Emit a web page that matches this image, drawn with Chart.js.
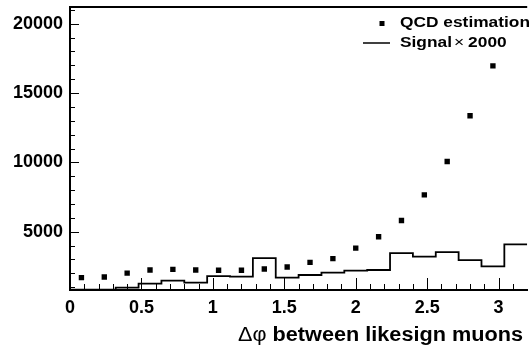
<!DOCTYPE html>
<html>
<head>
<meta charset="utf-8">
<script src="https://cdn.jsdelivr.net/npm/chart.js@4.4.1/dist/chart.umd.min.js"></script>
<style>
  html, body { margin: 0; padding: 0; background: #fff; }
  canvas { display: block; }
</style>
</head>
<body>
<canvas id="myChart" width="531" height="352"></canvas>
<script>
// data
const qcdX = [0.08, 0.24, 0.40, 0.56, 0.72, 0.88, 1.04, 1.20, 1.36, 1.52,
  1.68, 1.84, 2.00, 2.16, 2.32, 2.48, 2.64, 2.80, 2.96];
const qcdY = [1690, 1740, 2020, 2240, 2290, 2240, 2220, 2220, 2310, 2460,
  2790, 3060, 3820, 4640, 5810, 7660, 10060, 13360, 16960];

const signalEdges = [0, 0.16, 0.32, 0.48, 0.64, 0.80, 0.96, 1.12, 1.28, 1.44,
  1.60, 1.76, 1.92, 2.08, 2.24, 2.40, 2.56, 2.72, 2.88, 3.04, 3.20];
const signalY = [820, 820, 975, 1260, 1480, 1330, 1800, 1770, 3100, 1690,
  1880, 2050, 2200, 2240, 3460, 3200, 3530, 2960, 2500, 4090];

const xTicks = [0, 0.5, 1, 1.5, 2, 2.5, 3];
const yTicks = [5000, 10000, 15000, 20000];

const FONT = "'Liberation Sans', Arial, Helvetica, sans-serif";
const ctx = document.getElementById("myChart");

// histogram outline: one point per left edge, plus the closing right edge
const signalPts = signalEdges.map((x, i) => ({ x: x, y: signalY[Math.min(i, signalY.length - 1)] }));
const qcdPts = qcdX.map((x, i) => ({ x: x, y: qcdY[i] }));

// draw text squeezed/stretched to a given width
function fitText(c, str, x, y, width) {
  const w = c.measureText(str).width;
  c.save();
  c.translate(x, y);
  c.scale(width / w, 1);
  c.fillText(str, 0, 0);
  c.restore();
}

// inward ROOT-like ticks, frame top line, legend and axis title
const rootStyle = {
  id: "rootStyle",
  afterDraw(chart) {
    const c = chart.ctx;
    const area = chart.chartArea;
    const xs = chart.scales.x;
    const ys = chart.scales.y;
    c.save();
    c.strokeStyle = "#000";
    c.lineWidth = 1;

    // x ticks (minor every 0.1)
    for (let k = 0; k <= 32; k++) {
      const px = Math.round(xs.getPixelForValue(k / 10)) + 0.5;
      if (px > area.right) break;
      const len = k % 5 === 0 ? 12 : 6;
      c.beginPath();
      c.moveTo(px, area.bottom);
      c.lineTo(px, area.bottom - len);
      c.stroke();
    }
    // y ticks (minor every 1000)
    for (let v = 1000; v <= 21000; v += 1000) {
      const py = Math.round(ys.getPixelForValue(v)) + 0.5;
      const len = v % 5000 === 0 ? 9 : 5;
      c.beginPath();
      c.moveTo(area.left, py);
      c.lineTo(area.left + len, py);
      c.stroke();
    }

    // top frame line
    c.lineWidth = 2;
    c.beginPath();
    c.moveTo(area.left - 1, area.top);
    c.lineTo(area.right, area.top);
    c.stroke();

    // legend
    c.fillStyle = "#000";
    c.fillRect(379.5, 21, 5, 5);
    c.lineWidth = 1.5;
    c.beginPath();
    c.moveTo(363, 43);
    c.lineTo(390, 43);
    c.stroke();
    c.textBaseline = "middle";
    c.textAlign = "left";
    c.font = "bold 14.5px " + FONT;
    fitText(c, "QCD estimation", 400, 23, 130);
    const sx = 130 / c.measureText("QCD estimation").width;
    const ws = c.measureText("Signal").width * sx;
    fitText(c, "Signal", 400, 43, ws);
    c.font = "14.5px " + FONT;
    const wx = c.measureText("\u00d7").width * sx;
    fitText(c, "\u00d7", 400 + ws + 2, 43, wx);
    c.font = "bold 14.5px " + FONT;
    const wn = c.measureText("2000").width * sx;
    fitText(c, "2000", 400 + ws + 2 + wx + 4, 43, wn);

    // x axis title, right aligned, 238..523
    c.textBaseline = "alphabetic";
    const t1 = "\u0394\u03c6";
    const t2 = " between likesign muons";
    c.font = "bold 20px " + FONT;
    const wb = c.measureText(t2).width;
    c.font = "20px " + FONT;
    const wa = c.measureText(t1).width;
    const k = 285 / (wa + wb);
    fitText(c, t1, 238, 341, wa * k);
    c.font = "bold 20px " + FONT;
    fitText(c, t2, 238 + wa * k, 341, wb * k);
    c.restore();
  }
};

const myChart = new Chart(ctx, {
  type: "scatter",
  data: {
    datasets: [
      {
        label: "QCD estimation",
        data: qcdPts,
        pointStyle: "rect",
        pointRadius: 3.8,
        pointHoverRadius: 3.8,
        backgroundColor: "#000",
        borderWidth: 0,
        showLine: false
      },
      {
        label: "Signal\u00d7 2000",
        type: "line",
        data: signalPts,
        stepped: true,
        borderColor: "#000",
        borderWidth: 1.8,
        pointRadius: 0,
        fill: false
      }
    ]
  },
  plugins: [rootStyle],
  options: {
    responsive: false,
    animation: false,
    devicePixelRatio: 1,
    layout: { padding: { top: 7, right: 0, left: 0, bottom: 0 } },
    plugins: {
      legend: { display: false },
      tooltip: { enabled: false }
    },
    scales: {
      x: {
        type: "linear",
        min: 0,
        max: 3.2,
        grid: { drawOnChartArea: false, drawTicks: false },
        border: { display: true, color: "#000", width: 2 },
        ticks: {
          color: "#000",
          padding: 7,
          font: { family: FONT, size: 18, weight: "bold" },
          maxRotation: 0,
          callback: (v) => String(v)
        },
        afterBuildTicks: (scale) => { scale.ticks = xTicks.map(v => ({ value: v })); },
        afterFit: (scale) => {
          scale.height = 62;
          scale.paddingLeft = 0;
          scale.paddingRight = 0;
        }
      },
      y: {
        type: "linear",
        min: 800,
        max: 21200,
        grid: { drawOnChartArea: false, drawTicks: false },
        border: { display: true, color: "#000", width: 2 },
        ticks: {
          color: "#000",
          padding: 7,
          font: { family: FONT, size: 18, weight: "bold" },
          callback: (v) => String(v)
        },
        afterBuildTicks: (scale) => { scale.ticks = yTicks.map(v => ({ value: v })); },
        afterFit: (scale) => {
          scale.width = 70;
          scale.paddingTop = 0;
          scale.paddingBottom = 0;
        }
      }
    }
  }
});
</script>
</body>
</html>
